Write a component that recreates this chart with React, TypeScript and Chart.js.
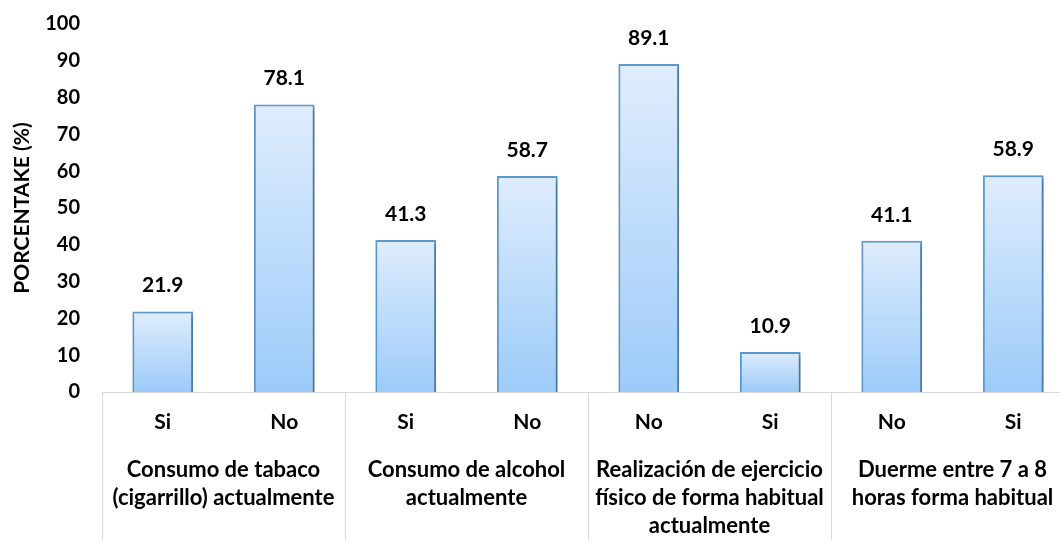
import React, { useEffect, useRef } from 'react';
import { Chart, registerables } from 'chart.js';

Chart.register(...registerables);

const categories: string[] = ['Si', 'No', 'Si', 'No', 'No', 'Si', 'No', 'Si'];
const values: number[] = [21.9, 78.1, 41.3, 58.7, 89.1, 10.9, 41.1, 58.9];
const groupLabels: string[][] = [
  ['Consumo de tabaco', '(cigarrillo) actualmente'],
  ['Consumo de alcohol', 'actualmente'],
  ['Realización de ejercicio', 'físico de forma habitual', 'actualmente'],
  ['Duerme entre 7 a 8', 'horas forma habitual'],
];
const yMin = 0;
const yMax = 100;
const yStep = 10;
const yTitle = 'PORCENTAKE (%)';

const FONT = 'Lato';
const AXIS_GRAY = '#d9d9d9';

export default function App() {
  const ref = useRef<HTMLCanvasElement | null>(null);

  useEffect(() => {
    if (!ref.current) return;

    const groupPlugin = {
      id: 'groupPlugin',
      beforeDatasetsDraw(chart: any) {
        const ctx = chart.ctx;
        ctx.save();
        ctx.shadowColor = 'rgba(0,0,0,0.3)';
        ctx.shadowBlur = 4;
        ctx.shadowOffsetX = 2;
        ctx.shadowOffsetY = 2;
      },
      afterDatasetsDraw(chart: any) {
        const ctx = chart.ctx;
        ctx.restore();
        const meta = chart.getDatasetMeta(0);
        ctx.save();
        ctx.fillStyle = '#000';
        ctx.font = `bold 21px ${FONT}`;
        ctx.textAlign = 'center';
        ctx.textBaseline = 'middle';
        meta.data.forEach((el: any, i: number) => {
          ctx.fillText(values[i].toFixed(1), el.x, el.y - 26);
        });
        ctx.restore();
      },
      afterDraw(chart: any) {
        const ctx = chart.ctx;
        const x = chart.scales.x;
        const bottom = chart.chartArea.bottom;
        const bounds: number[] = [x.left];
        for (let g = 1; g < groupLabels.length; g++) {
          bounds.push((x.getPixelForValue(2 * g - 1) + x.getPixelForValue(2 * g)) / 2);
        }
        bounds.push(x.right);
        ctx.save();
        ctx.strokeStyle = AXIS_GRAY;
        ctx.lineWidth = 1;
        bounds.forEach((b) => {
          const px = Math.round(b) + 0.5;
          ctx.beginPath();
          ctx.moveTo(px, bottom);
          ctx.lineTo(px, chart.height);
          ctx.stroke();
        });
        ctx.fillStyle = '#000';
        ctx.font = `bold 22px ${FONT}`;
        ctx.textAlign = 'center';
        ctx.textBaseline = 'middle';
        groupLabels.forEach((lines, g) => {
          const cx = (x.getPixelForValue(2 * g) + x.getPixelForValue(2 * g + 1)) / 2;
          lines.forEach((line, li) => {
            ctx.fillText(line, cx, bottom + 78 + li * 28);
          });
        });
        ctx.restore();
      },
    };

    const chart = new Chart(ref.current, {
      type: 'bar',
      data: {
        labels: categories,
        datasets: [
          {
            data: values,
            borderColor: '#5b9bd5',
            borderWidth: 2,
            borderSkipped: 'bottom',
            barPercentage: 0.5,
            categoryPercentage: 1,
            backgroundColor: (context: any) => {
              const chart = context.chart;
              const ys = chart.scales && chart.scales.y;
              if (!ys || !chart.chartArea || context.raw === undefined) return '#c4e0fb';
              const top = ys.getPixelForValue(context.raw);
              const base = ys.getPixelForValue(0);
              if (!isFinite(top) || !isFinite(base) || top === base) return '#c4e0fb';
              const g = chart.ctx.createLinearGradient(0, top, 0, base);
              g.addColorStop(0, '#dfedfd');
              g.addColorStop(1, '#9ccbf9');
              return g;
            },
          },
        ],
      },
      options: {
        responsive: false,
        animation: false,
        events: [],
        layout: { padding: { top: 24, right: 0, bottom: 0, left: 0 } },
        plugins: {
          legend: { display: false },
          tooltip: { enabled: false },
        },
        scales: {
          x: {
            type: 'category',
            grid: { display: false, drawTicks: false },
            border: { display: true, color: AXIS_GRAY, width: 1 },
            ticks: {
              color: '#000',
              font: { family: FONT, size: 21, weight: 'bold' },
              padding: 18,
              maxRotation: 0,
              autoSkip: false,
            },
            afterFit: (scale: any) => {
              scale.height = 148;
              scale.paddingLeft = 0;
              scale.paddingRight = 0;
            },
          },
          y: {
            min: yMin,
            max: yMax,
            grid: { display: false, drawTicks: false },
            border: { display: false },
            ticks: {
              stepSize: yStep,
              color: '#000',
              font: { family: FONT, size: 20, weight: 'bold' },
              padding: 22,
            },
            title: {
              display: true,
              text: yTitle,
              color: '#000',
              font: { family: FONT, size: 21, weight: 'bold' },
              padding: { top: 10, bottom: 0 },
            },
            afterFit: (scale: any) => {
              scale.width = 102;
              scale.paddingTop = 0;
              scale.paddingBottom = 0;
            },
          },
        },
      },
      plugins: [groupPlugin],
    });

    return () => {
      chart.destroy();
    };
  }, []);

  return (
    <div
      style={{
        position: 'absolute',
        left: 0,
        top: 0,
        width: 1060,
        height: 540,
        overflow: 'hidden',
        background: '#fff',
      }}
    >
      <canvas ref={ref} width={1074} height={540} style={{ display: 'block', width: 1074, height: 540 }} />
    </div>
  );
}
